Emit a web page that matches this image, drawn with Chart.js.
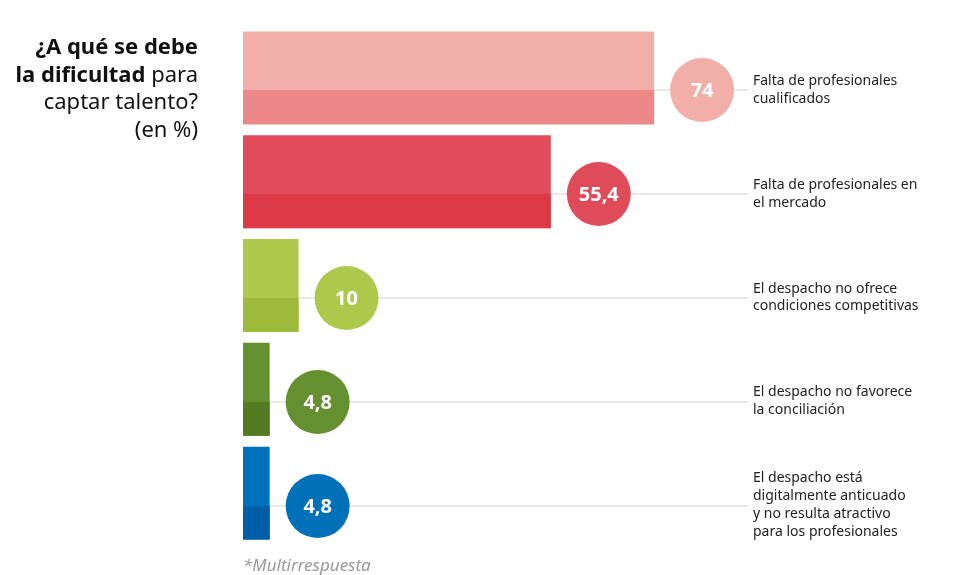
<!DOCTYPE html>
<html lang="es">
<head>
<meta charset="UTF-8">
<title>Dificultad para captar talento</title>
<script src="https://cdn.jsdelivr.net/npm/chart.js"></script>
<style>
  body { margin: 0; background: #fff; font-family: "Noto Sans", sans-serif; }
  #wrap { position: relative; width: 975px; height: 575px; overflow: hidden; }
  #title { position: absolute; right: 777px; top: 32px; text-align: right; font-size: 22px; line-height: 27.5px; color: #111; white-space: nowrap; }
  #title b { font-weight: 700; }
  #note { position: absolute; left: 243px; top: 553px; font-size: 17px; font-style: italic; color: #999; }
</style>
</head>
<body>
<div id="wrap">
  <canvas id="myChart" width="975" height="575"></canvas>
  <div id="title"><b>¿A qué se debe</b><br><b>la dificultad</b> para<br>captar talento?<br>(en %)</div>
  <div id="note">*Multirrespuesta</div>
</div>
<script>
  const categories = [
    ['Falta de profesionales', 'cualificados'],
    ['Falta de profesionales en', 'el mercado'],
    ['El despacho no ofrece', 'condiciones competitivas'],
    ['El despacho no favorece', 'la conciliación'],
    ['El despacho está', 'digitalmente anticuado', 'y no resulta atractivo', 'para los profesionales']
  ];
  const values = [74, 55.4, 10, 4.8, 4.8];
  const topColors = ['#f2afa9', '#e24c5a', '#aec94b', '#64902f', '#0071bc'];
  const bottomColors = ['#ec8888', '#dc3a46', '#9dba3d', '#527b22', '#005da8'];
  const circleColors = ['#f2afa9', '#e04b59', '#adc94c', '#64902f', '#0070b9'];

  // grey guide lines, darker lower half of bars, value circles
  const decor = {
    id: 'decor',
    beforeDatasetsDraw(chart) {
      const c = chart.ctx, area = chart.chartArea;
      const bars = chart.getDatasetMeta(0).data;
      c.save();
      c.strokeStyle = '#e9e9e9';
      c.lineWidth = 2;
      bars.forEach(b => {
        const ly = Math.round(b.y + b.height * 0.135);
        c.beginPath();
        c.moveTo(area.left, ly);
        c.lineTo(area.right + 5, ly);
        c.stroke();
      });
      c.restore();
    },
    afterDatasetsDraw(chart) {
      const c = chart.ctx;
      const bars = chart.getDatasetMeta(0).data;
      c.save();
      bars.forEach((b, i) => {
        const ly = Math.round(b.y + b.height * 0.135);
        const bottom = b.y + b.height / 2;
        c.fillStyle = bottomColors[i];
        c.fillRect(b.base, ly, b.x - b.base, bottom - ly);
        const cx = b.x + 48;
        c.beginPath();
        c.arc(cx, ly, 32, 0, Math.PI * 2);
        c.fillStyle = circleColors[i];
        c.fill();
        c.fillStyle = '#fff';
        c.font = 'bold 20px "Noto Sans"';
        c.textAlign = 'center';
        c.textBaseline = 'middle';
        c.fillText(String(values[i]).replace('.', ','), cx, ly + 1);
      });
      c.restore();
    }
  };

  new Chart(document.getElementById('myChart'), {
    type: 'bar',
    data: {
      labels: categories,
      datasets: [{
        data: values,
        backgroundColor: topColors,
        borderWidth: 0,
        barPercentage: 0.895,
        categoryPercentage: 1
      }]
    },
    options: {
      indexAxis: 'y',
      responsive: false,
      animation: false,
      layout: { padding: { left: 243, top: 26, bottom: 30, right: 0 } },
      plugins: { legend: { display: false }, tooltip: { enabled: false } },
      scales: {
        x: { display: false, min: 0, max: 90 },
        y: {
          position: 'right',
          grid: { display: false, drawTicks: false },
          border: { display: false },
          afterFit(axis) {
            axis.width = 232;
            axis.paddingTop = 0;
            axis.paddingBottom = 0;
          },
          ticks: {
            crossAlign: 'near',
            padding: 10,
            labelOffset: 12,
            color: '#222',
            font: { family: 'Noto Sans', size: 14, lineHeight: 1.28 }
          }
        }
      }
    },
    plugins: [decor]
  });
</script>
</body>
</html>
